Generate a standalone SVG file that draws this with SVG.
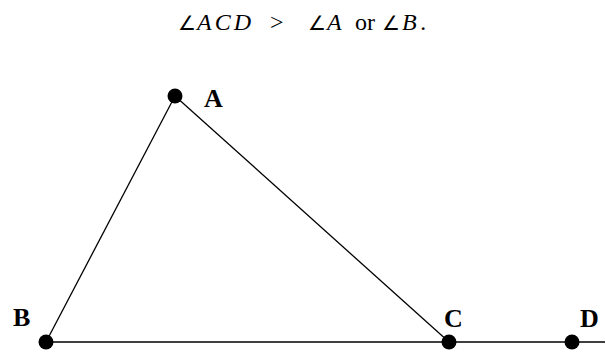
<svg xmlns="http://www.w3.org/2000/svg" width="606" height="352" viewBox="0 0 606 352">
<style>
.t{font-family:"Liberation Serif","Times New Roman",serif;font-size:24px;fill:#000}
.it{font-style:italic}
.ang{font-family:"DejaVu Sans",sans-serif;font-size:20px;fill:#000}
.lbl{font-family:"Liberation Serif","Times New Roman",serif;font-size:26px;font-weight:bold;fill:#000}
.edge{stroke:#000;stroke-width:1.3;fill:none}
.pt{fill:#000}
</style>
<rect width="606" height="352" fill="#fff"/>
<g id="title">
<text class="ang" x="178" y="30">∠</text>
<text class="t it" x="197" y="30" letter-spacing="3">ACD</text>
<text class="t" x="270" y="30">&gt;</text>
<text class="ang" x="308" y="30">∠</text>
<text class="t it" x="327" y="30">A</text>
<text class="t" x="355" y="30">or</text>
<text class="ang" x="382" y="30">∠</text>
<text class="t it" x="402" y="30" letter-spacing="4">B.</text>
</g>
<g id="connectors">
<line class="edge" x1="175" y1="96" x2="46" y2="342"/>
<line class="edge" x1="175" y1="96" x2="449" y2="342"/>
<line class="edge" x1="46" y1="342" x2="605" y2="342"/>
</g>
<g id="A"><circle class="pt" cx="175" cy="96" r="7.5"/><text class="lbl" x="204" y="107">A</text></g>
<g id="B"><circle class="pt" cx="46" cy="342" r="7.5"/><text class="lbl" x="13" y="326">B</text></g>
<g id="C"><circle class="pt" cx="449" cy="342" r="7.5"/><text class="lbl" x="444" y="327">C</text></g>
<g id="D"><circle class="pt" cx="572" cy="342" r="7.5"/><text class="lbl" x="580" y="327">D</text></g>
</svg>
